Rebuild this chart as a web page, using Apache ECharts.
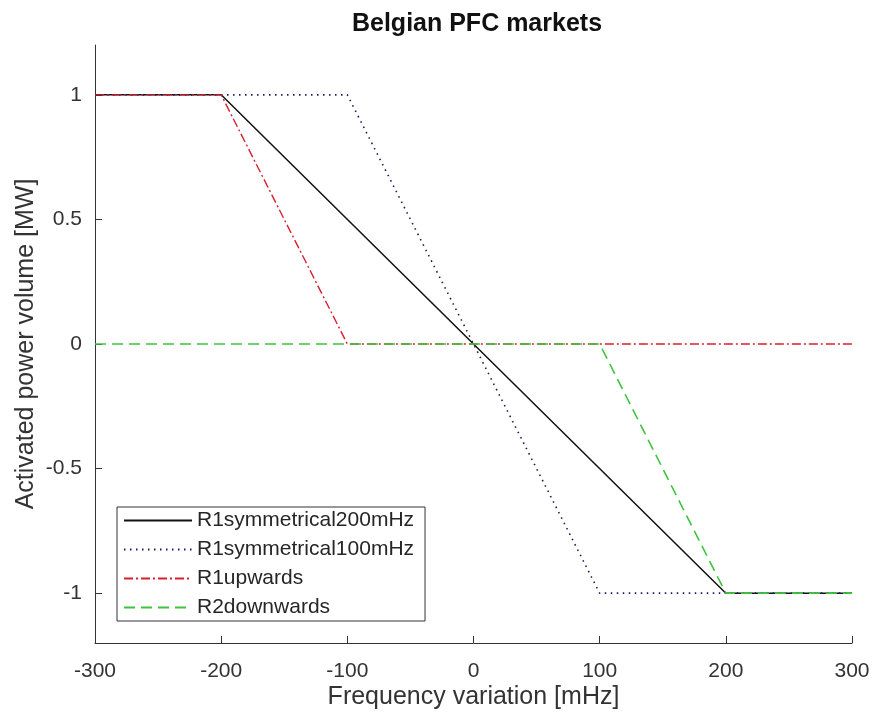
<!DOCTYPE html>
<html>
<head>
<meta charset="utf-8">
<script src="https://cdn.jsdelivr.net/npm/echarts@6/dist/echarts.min.js"></script>
<style>html,body{margin:0;padding:0;background:#fff;}#c{width:873px;height:720px;}</style>
</head>
<body>
<div id="c"></div>
<script>
var seriesNames = ['R1symmetrical200mHz', 'R1symmetrical100mHz', 'R1upwards', 'R2downwards'];
var r1sym200 = [[-300, 1], [-200, 1], [200, -1], [300, -1]];
var r1sym100 = [[-300, 1], [-100, 1], [100, -1], [300, -1]];
var r1up = [[-300, 1], [-200, 1], [-100, 0], [300, 0]];
var r2down = [[-300, 0], [100, 0], [200, -1], [300, -1]];
var yTicks = [-1, -0.5, 0, 0.5, 1];
var xTicks = [-300, -200, -100, 0, 100, 200, 300];

var font = 'Liberation Sans, Arial, sans-serif';
var chart = echarts.init(document.getElementById('c'), null, {renderer: 'canvas'});
function line(name, data, color, type, width) {
  return {
    name: name, type: 'line', data: data, symbol: 'none', animation: false,
    lineStyle: {color: color, type: type, width: width, cap: 'butt'},
    itemStyle: {color: color}
  };
}
chart.setOption({
  backgroundColor: '#fff',
  animation: false,
  title: {
    text: 'Belgian PFC markets', left: 472, top: 7, textAlign: 'center',
    textStyle: {fontFamily: font, fontWeight: 'bold', fontSize: 25, color: '#111'}
  },
  grid: {left: 95, right: 21, top: 45, bottom: 77, containLabel: false},
  xAxis: {
    type: 'value', min: -300, max: 300, interval: 100,
    name: 'Frequency variation [mHz]', nameLocation: 'middle', nameGap: 42,
    nameMoveOverlap: false,
    nameTextStyle: {fontFamily: font, fontSize: 25, color: '#333'},
    axisLine: {show: true, onZero: false, lineStyle: {color: '#333', width: 1}},
    axisTick: {show: true, inside: true, length: 7, lineStyle: {color: '#333'}},
    axisLabel: {fontFamily: font, fontSize: 21, color: '#333', margin: 18,
      formatter: function (v) { return xTicks.indexOf(v) >= 0 ? String(v) : ''; }},
    splitLine: {show: false}
  },
  yAxis: {
    type: 'value', min: -1.2, max: 1.2,
    name: 'Activated power volume [MW]', nameLocation: 'middle', nameGap: 56,
    nameMoveOverlap: false,
    nameTextStyle: {fontFamily: font, fontSize: 25, color: '#333'},
    axisLine: {show: true, onZero: false, lineStyle: {color: '#333', width: 1}},
    axisTick: {show: true, inside: true, length: 7, customValues: yTicks, lineStyle: {color: '#333'}},
    axisLabel: {fontFamily: font, fontSize: 21, color: '#333', margin: 13, customValues: yTicks},
    splitLine: {show: false}
  },
  legend: {
    orient: 'vertical', left: 117, top: 507,
    data: seriesNames,
    itemWidth: 68, itemHeight: 21, itemGap: 8,
    padding: [3, 11, 3, 6],
    itemStyle: {opacity: 0},
    backgroundColor: '#fff', borderColor: '#333', borderWidth: 1, borderRadius: 0,
    textStyle: {fontFamily: font, fontSize: 21, color: '#262626'}
  },
  series: [
    line(seriesNames[0], r1sym200, '#111', 'solid', 1.5),
    line(seriesNames[1], r1sym100, '#1a1a60', [1.5, 4.5], 1.6),
    line(seriesNames[2], r1up, '#d8202c', [9, 3, 2, 3], 1.4),
    line(seriesNames[3], r2down, '#3cc43c', [11, 6], 1.6)
  ]
});
</script>
</body>
</html>
